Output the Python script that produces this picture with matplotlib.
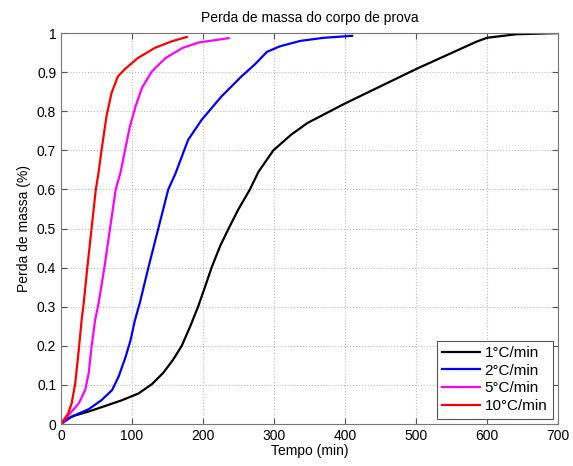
import numpy as np
import matplotlib.pyplot as plt

plt.rcParams['font.family'] = ['Liberation Sans', 'DejaVu Sans']

# 1 C/min
t1 = [0, 8, 20, 39, 62, 86, 109, 128, 144, 158, 170, 182, 193, 203, 212, 224, 236, 250,
      266, 278, 299, 324, 347, 400, 500, 585, 600, 641, 700]
m1 = [0, 0.013, 0.022, 0.032, 0.046, 0.061, 0.078, 0.102, 0.131, 0.165, 0.2, 0.25, 0.3,
      0.352, 0.4, 0.455, 0.5, 0.55, 0.6, 0.645, 0.70, 0.74, 0.77, 0.82, 0.908, 0.978,
      0.988, 0.997, 1.0]
# 2 C/min
t2 = [0, 15, 39, 57, 72, 81, 91, 98, 104, 111, 123, 137, 151, 161, 179, 198, 226, 254,
      273, 290, 308, 337, 370, 410]
m2 = [0, 0.019, 0.038, 0.061, 0.087, 0.121, 0.172, 0.215, 0.265, 0.31, 0.4, 0.5, 0.6,
      0.64, 0.727, 0.778, 0.838, 0.889, 0.92, 0.952, 0.966, 0.98, 0.988, 0.993]
# 5 C/min
t5 = [0, 15, 25, 34, 39, 43, 48, 53, 61, 69, 77, 84, 90, 97, 105, 114, 128, 147, 171,
      194, 236]
m5 = [0, 0.032, 0.053, 0.087, 0.13, 0.198, 0.266, 0.31, 0.4, 0.5, 0.6, 0.645, 0.7,
      0.761, 0.813, 0.86, 0.902, 0.936, 0.962, 0.976, 0.987]
# 10 C/min
t10 = [0, 10, 15, 20, 25, 29, 32, 37, 43, 49, 53, 57, 64, 71, 80, 90, 108, 132, 156, 177]
m10 = [0, 0.027, 0.053, 0.104, 0.19, 0.266, 0.31, 0.4, 0.5, 0.6, 0.645, 0.7, 0.787,
       0.846, 0.889, 0.908, 0.936, 0.962, 0.979, 0.99]

labels = ['1°C/min', '2°C/min', '5°C/min', '10°C/min']
colors = ['black', 'blue', 'magenta', 'red']

fig = plt.figure(figsize=(5.73, 4.66), dpi=100)
ax = fig.add_axes([0.1065, 0.0901, 0.8675, 0.8389])

for t, m, lab, c in zip([t1, t2, t5, t10], [m1, m2, m5, m10], labels, colors):
    ax.plot(t, m, color=c, lw=1.6, label=lab, solid_joinstyle='round')

ax.set_xlim(0, 700)
ax.set_ylim(0, 1)
ax.set_xticks(np.arange(0, 701, 100))
ax.set_yticks(np.arange(0, 1.01, 0.1))
ax.set_yticklabels(['0', '0.1', '0.2', '0.3', '0.4', '0.5', '0.6', '0.7', '0.8', '0.9', '1'])
ax.tick_params(direction='in', top=True, right=True, labelsize=10, length=4, color='#555555')
ax.grid(True, linestyle=':', color='#bbbbbb', linewidth=0.8)
for s in ax.spines.values():
    s.set_color('#777777')

ax.set_title('Perda de massa do corpo de prova', fontsize=10, pad=8)
ax.set_xlabel('Tempo (min)', fontsize=10, labelpad=1)
ax.set_ylabel('Perda de massa (%)', fontsize=10, labelpad=4)

leg = ax.legend(loc='lower right', fontsize=11, fancybox=False, edgecolor='#555555',
                framealpha=1, handlelength=2.5, borderpad=0.35, labelspacing=0.25,
                handletextpad=0.3, borderaxespad=0.35)
leg.get_frame().set_linewidth(0.8)

fig.savefig('out.png', dpi=100)
